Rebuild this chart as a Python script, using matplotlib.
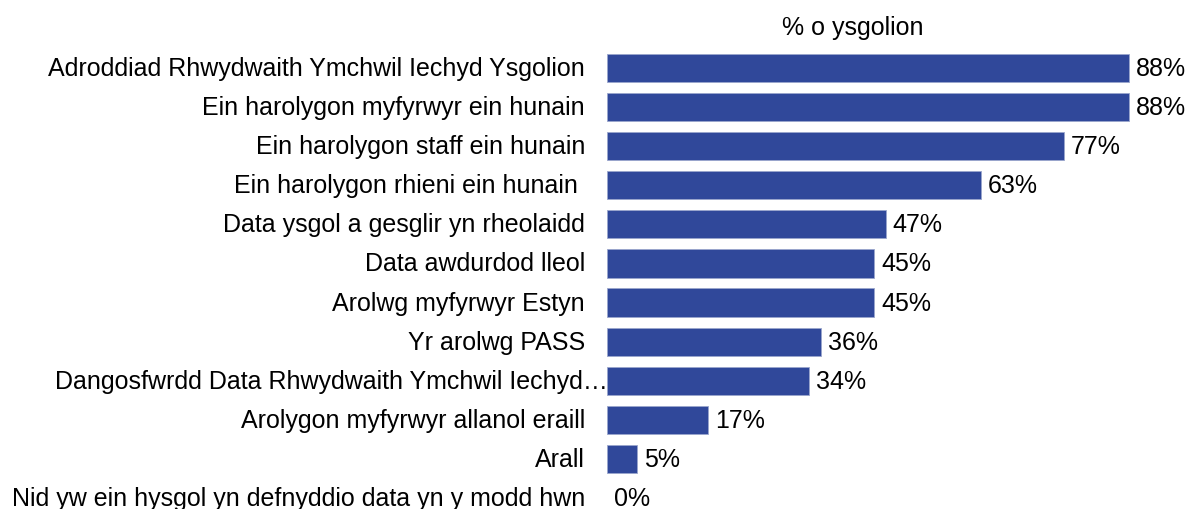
import matplotlib.pyplot as plt

# data
labels = [
    "Adroddiad Rhwydwaith Ymchwil Iechyd Ysgolion",
    "Ein harolygon myfyrwyr ein hunain",
    "Ein harolygon staff ein hunain",
    "Ein harolygon rhieni ein hunain ",
    "Data ysgol a gesglir yn rheolaidd",
    "Data awdurdod lleol",
    "Arolwg myfyrwyr Estyn",
    "Yr arolwg PASS",
    "Dangosfwrdd Data Rhwydwaith Ymchwil Iechyd…",
    "Arolygon myfyrwyr allanol eraill",
    "Arall",
    "Nid yw ein hysgol yn defnyddio data yn y modd hwn",
]
values = [88, 88, 77, 63, 47, 45, 45, 36, 34, 17, 5, 0]
title = "% o ysgolion"

BAR_COLOR = "#30489A"
FS = 18

plt.rcParams["font.family"] = ["Liberation Sans", "DejaVu Sans"]

fig = plt.figure(figsize=(11.9, 5.1), dpi=100)
ax = fig.add_axes([607 / 1190, 0.0, 1 - 607 / 1190, 1 - 49 / 510])

ypos = list(range(len(labels)))
edges = ["#9aa6cc" if v > 0 else "none" for v in values]
ax.barh(ypos, values, height=0.72, color=BAR_COLOR, edgecolor=edges, linewidth=0.6)
ax.set_xlim(0, 98.3)
ax.set_ylim(11.28, -0.51)
ax.axis("off")

ytr = ax.get_yaxis_transform()
for y, lab, v in zip(ypos, labels, values):
    off = 1 if lab.endswith("…") else -22
    ax.annotate(lab, xy=(0, y), xycoords=ytr, xytext=(off, 0), textcoords="offset pixels",
                ha="right", va="center", fontsize=FS, color="black")
    ax.annotate(f"{v}%", xy=(v, y), xytext=(7, 0), textcoords="offset pixels",
                ha="left", va="center", fontsize=FS, color="black")

fig.text(853 / 1190, 1 - 28 / 510, title, ha="center", va="center", fontsize=FS, color="black")

fig.savefig("out.png", dpi=100)
